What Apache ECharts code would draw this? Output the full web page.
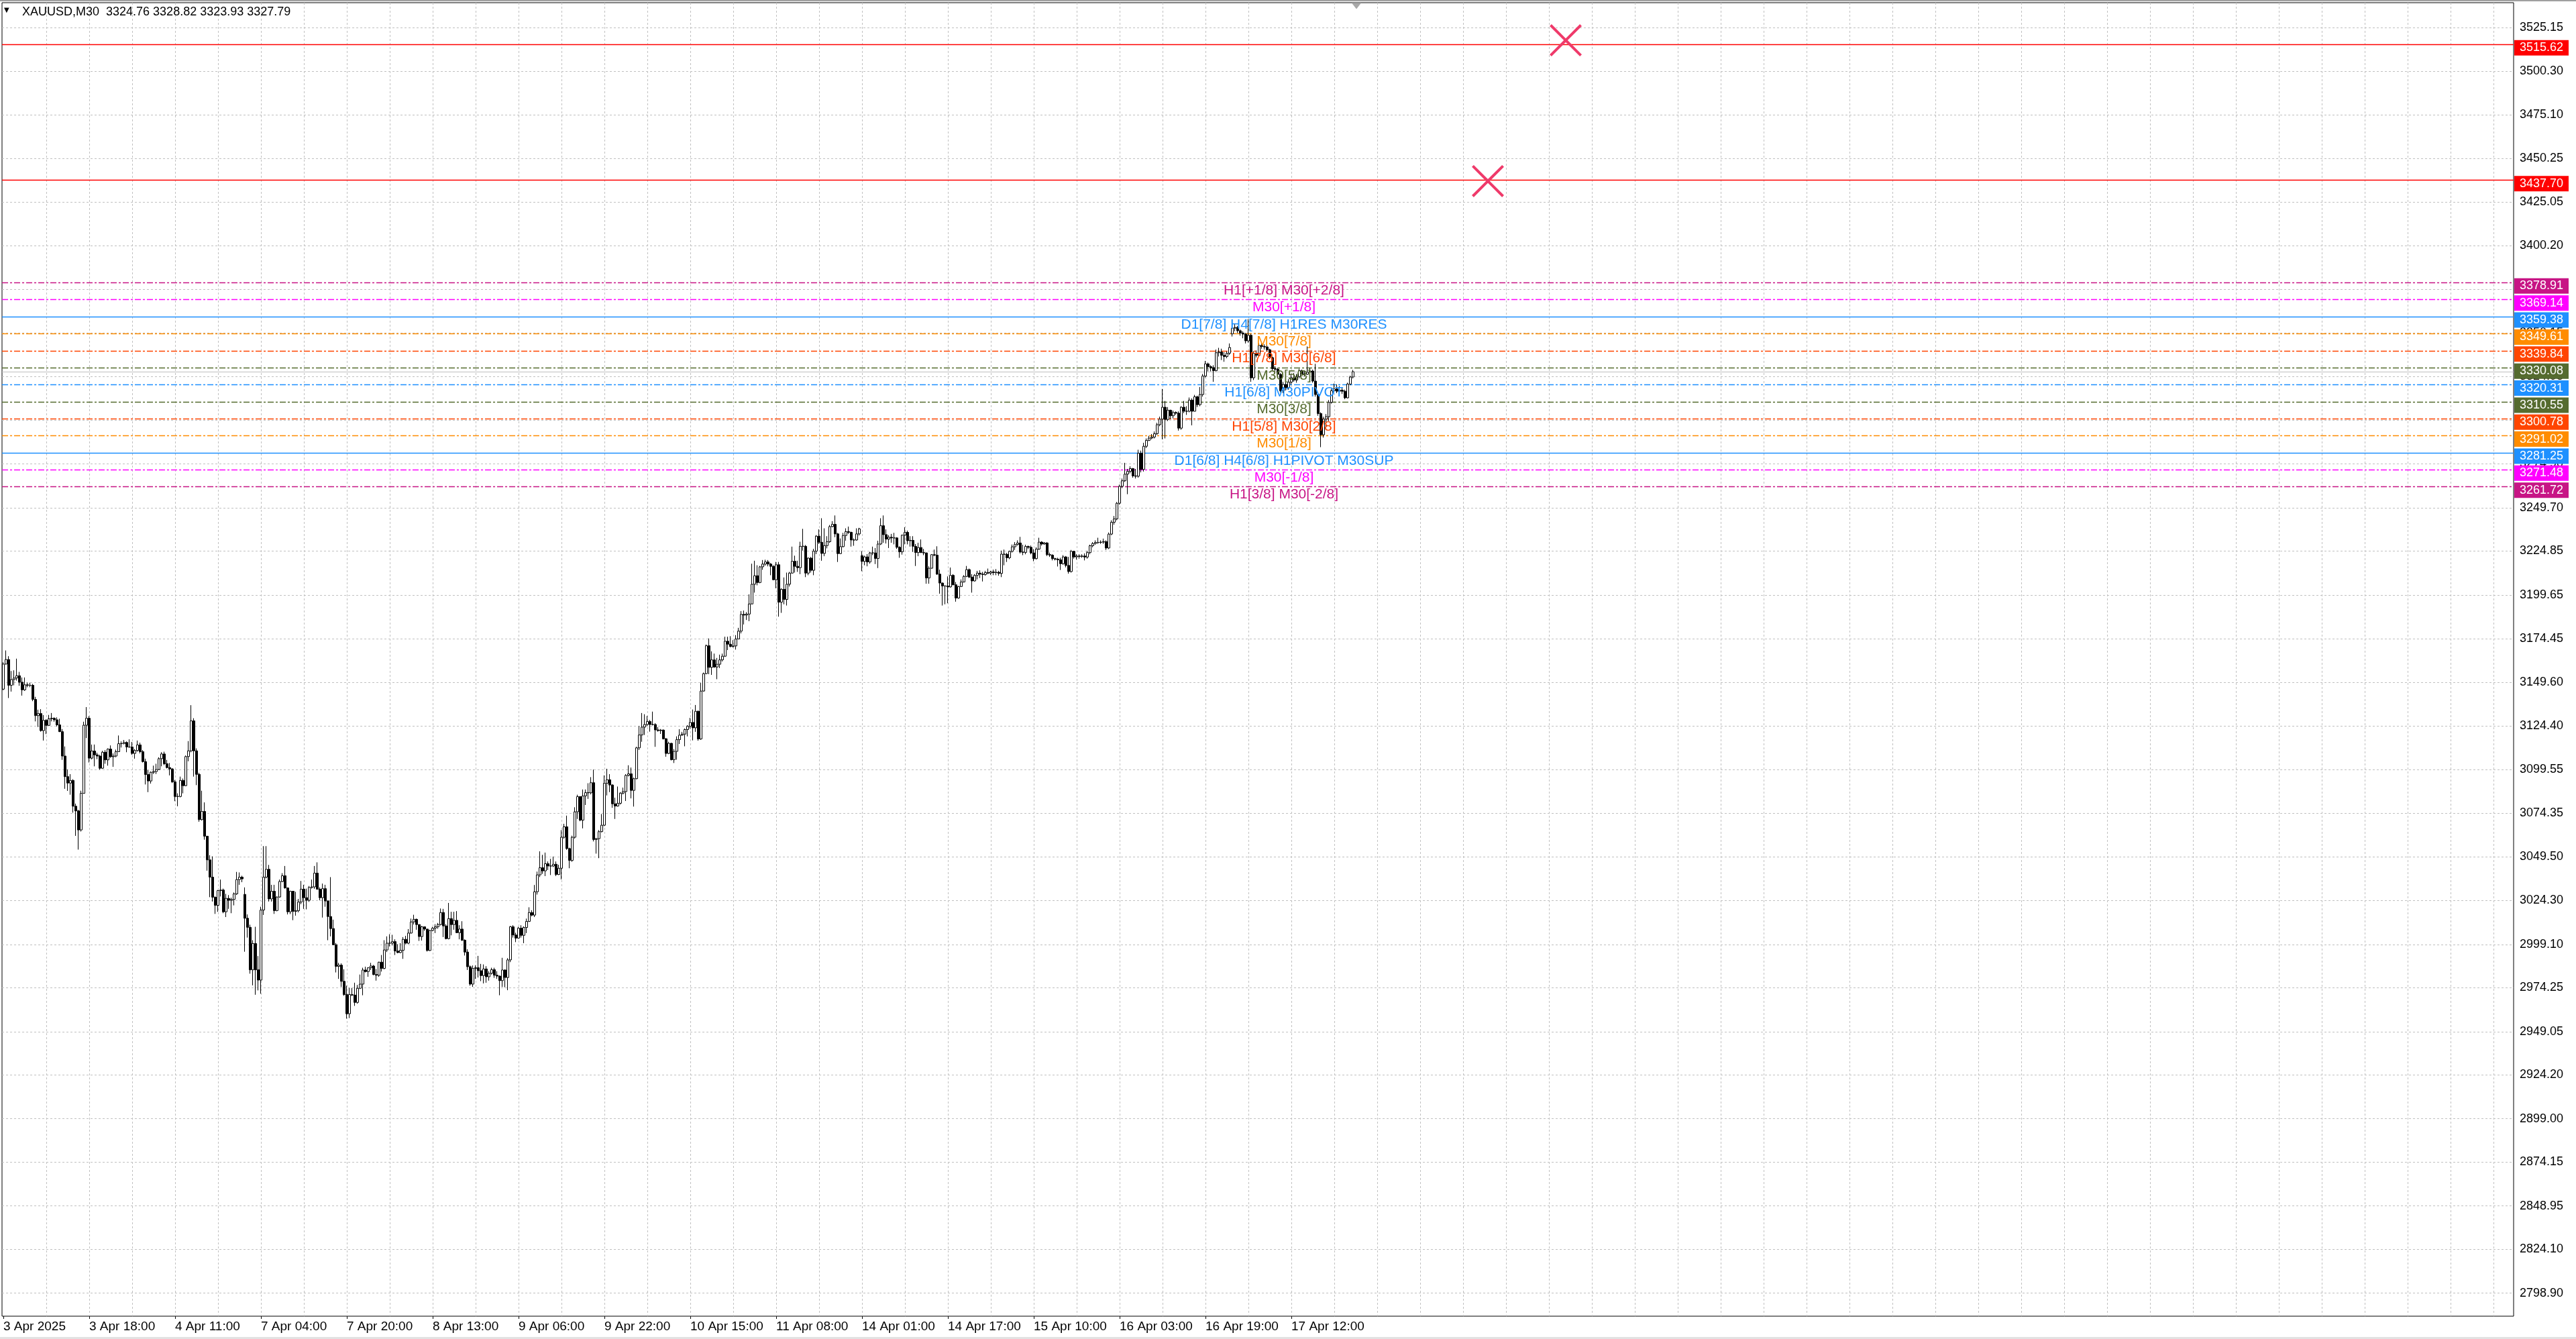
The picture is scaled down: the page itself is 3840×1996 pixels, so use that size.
<!DOCTYPE html>
<html><head><meta charset="utf-8">
<script src="https://cdn.jsdelivr.net/npm/echarts@6/dist/echarts.min.js"></script>
<style>html,body{margin:0;padding:0;background:#fff;overflow:hidden}#c{width:3840px;height:1996px}</style>
</head><body><div id="c"></div>
<script>
// ---------------- data ----------------
const header = 'XAUUSD,M30  3324.76 3328.82 3323.93 3327.79';
const timeLabels = ['3 Apr 2025','3 Apr 18:00','4 Apr 11:00','7 Apr 04:00','7 Apr 20:00','8 Apr 13:00','9 Apr 06:00','9 Apr 22:00','10 Apr 15:00','11 Apr 08:00','14 Apr 01:00','14 Apr 17:00','15 Apr 10:00','16 Apr 03:00','16 Apr 19:00','17 Apr 12:00'];
const yTicks = [3525.15,3500.30,3475.10,3450.25,3425.05,3400.20,3375.00,3350.15,3324.95,3300.10,3274.90,3249.70,3224.85,3199.65,3174.45,3149.60,3124.40,3099.55,3074.35,3049.50,3024.30,2999.10,2974.25,2949.05,2924.20,2899.00,2874.15,2848.95,2824.10,2798.90];

const firstOpen = 3145.6;
const gapBars = [90, 320, 458];
const gapOpens = [3027.8, 3222.2, 3349.5];

const closes = [
3160.0,3162.6,3147.8,3151.1,3152.0,3153.3,3149.6,3145.2,3148.1,3147.8,
3147.8,3139.7,3130.4,3131.6,3121.8,3127.7,3124.8,3128.6,3128.9,3128.0,
3125.1,3121.2,3107.2,3095.4,3091.7,3093.2,3078.4,3075.7,3064.8,3085.8,
3124.9,3128.9,3106.0,3110.1,3107.9,3107.2,3100.2,3109.4,3105.0,3111.2,
3106.8,3107.2,3109.7,3114.3,3114.4,3115.0,3112.4,3112.4,3108.7,3110.4,
3113.6,3109.7,3104.0,3096.6,3092.9,3097.9,3098.3,3099.5,3105.7,3108.4,
3102.8,3100.6,3099.8,3092.4,3084.0,3084.0,3093.2,3090.2,3106.9,3110.2,
3127.4,3110.2,3096.7,3070.7,3075.4,3061.2,3047.6,3037.7,3026.2,3021.5,
3030.0,3030.3,3017.8,3025.5,3024.4,3024.9,3028.1,3036.3,3037.7,3036.7,
3014.1,3008.9,2984.5,2999.6,2984.5,2978.6,3018.8,3037.7,3042.2,3025.2,
3029.6,3018.5,3026.3,3035.2,3038.5,3031.5,3017.8,3029.6,3018.1,3018.4,
3023.4,3030.8,3025.9,3024.4,3031.8,3032.1,3040.0,3030.8,3025.9,3031.1,
3024.0,3015.1,3008.2,2998.9,2986.5,2987.2,2977.9,2970.3,2959.3,2970.3,
2970.0,2965.8,2973.9,2976.3,2984.4,2983.5,2985.7,2986.7,2981.8,2981.4,
2988.9,2985.3,2995.9,2999.8,2999.8,3000.7,2995.3,2994.4,2995.7,3002.0,
2999.8,3005.6,3012.0,3013.5,3010.5,3003.6,3009.2,3007.9,2995.6,3007.1,
3008.4,3009.2,3010.5,3017.4,3009.7,3002.4,3013.9,3010.5,3012.9,3005.8,
3007.9,3001.5,2994.7,2986.3,2976.3,2985.3,2985.7,2984.0,2981.2,2985.0,
2980.5,2982.5,2984.6,2981.4,2980.9,2978.3,2984.4,2980.1,2990.2,3009.2,
3004.5,3002.7,3008.4,3004.3,3008.8,3012.3,3017.4,3015.9,3029.3,3039.0,
3043.1,3041.3,3045.4,3044.1,3044.1,3045.1,3039.2,3042.8,3060.6,3066.6,
3054.1,3047.3,3060.6,3075.2,3083.9,3070.4,3084.3,3086.2,3086.1,3091.9,
3059.3,3059.8,3063.8,3067.5,3091.6,3093.6,3090.6,3079.8,3078.5,3080.1,
3085.9,3086.8,3096.1,3097.0,3087.5,3094.2,3111.9,3119.3,3123.8,3125.3,
3127.0,3125.3,3125.3,3122.2,3121.8,3122.1,3117.1,3108.7,3114.5,3105.1,
3109.9,3116.6,3119.2,3119.8,3122.4,3124.3,3126.5,3123.4,3132.9,3117.0,
3144.5,3154.5,3170.5,3158.1,3162.4,3158.3,3159.9,3162.4,3164.5,3173.1,
3171.4,3170.1,3170.4,3174.4,3178.9,3188.5,3188.1,3188.7,3194.5,3205.8,
3210.7,3206.8,3215.8,3217.4,3218.6,3217.4,3216.1,3208.4,3217.0,3195.5,
3202.9,3197.1,3205.8,3212.2,3219.0,3216.1,3215.3,3227.6,3227.6,3212.2,
3220.8,3213.8,3224.8,3233.4,3229.9,3223.5,3228.0,3230.2,3238.9,3240.2,
3234.7,3223.4,3227.4,3233.8,3236.0,3235.6,3231.2,3231.2,3234.7,3237.6,
3218.9,3221.5,3218.6,3223.8,3223.8,3220.6,3228.9,3239.4,3234.3,3231.7,
3232.8,3232.4,3232.4,3227.0,3224.4,3234.0,3235.6,3230.8,3231.0,3227.6,
3224.0,3226.9,3224.0,3223.8,3209.4,3215.0,3222.8,3222.5,3211.6,3206.5,
3204.8,3204.8,3204.3,3210.9,3205.5,3197.9,3204.5,3207.1,3210.3,3214.2,
3209.9,3207.7,3210.9,3212.2,3211.6,3211.4,3212.5,3212.2,3212.9,3212.5,
3212.7,3212.0,3223.1,3223.0,3221.0,3224.7,
3227.3,3228.6,3229.5,3224.3,3224.1,3227.5,3227.0,3223.8,3220.5,3226.0,
3230.0,3228.9,3229.5,3222.8,3222.5,3220.5,3220.2,3219.8,3217.6,3221.5,
3216.6,3213.1,3224.7,3221.5,3222.0,3221.8,3222.0,3221.4,3224.0,3227.9,
3229.2,3229.8,3229.8,3230.0,3230.3,3226.6,3234.6,3241.4,3243.3,3252.3,
3262.0,3265.2,3269.0,3270.6,3272.2,3268.0,3267.8,3281.0,3271.7,3285.0,
3288.4,3289.7,3290.3,3292.2,3297.4,3300.6,3307.4,3300.4,3305.7,3302.5,
3304.4,3304.0,3295.4,3307.4,3305.1,3305.1,3311.5,3305.1,3313.4,3308.9,
3314.7,3325.3,3332.3,3330.7,3330.1,3328.4,3338.7,3339.1,3337.2,3336.5,
3338.4,3341.7,3352.8,3353.2,3351.3,3350.0,3349.4,3345.5,3348.7,3324.3,
3338.4,3337.2,3342.9,3342.3,3342.0,3340.4,3335.9,3329.5,3329.2,3326.3,
3316.9,3320.5,3318.6,3321.8,3324.3,3323.0,3325.0,3328.4,3326.5,3326.3,
3327.5,3328.2,3322.4,3314.7,3303.8,3291.6,3300.6,3302.0,3310.2,3316.9,
3317.9,3316.6,3317.2,3316.6,3312.8,3320.7,3324.76,3327.79];

const highs = [
3161.0,3167.8,3164.5,3156.0,3156.4,3163.1,3155.5,3152.3,3152.3,3149.3,
3149.3,3148.6,3141.2,3133.8,3134.1,3130.7,3128.3,3130.8,3131.9,3129.4,
3129.4,3128.6,3122.7,3112.7,3099.5,3096.8,3093.9,3079.9,3076.3,3087.3,
3126.9,3135.3,3130.1,3113.8,3113.8,3109.1,3107.9,3110.2,3110.6,3111.6,
3113.3,3108.7,3110.9,3119.0,3115.6,3116.4,3115.6,3116.8,3115.3,3111.2,
3116.1,3114.9,3110.6,3105.7,3099.1,3098.3,3101.7,3102.8,3106.5,3109.4,
3109.7,3105.0,3103.2,3100.3,3093.5,3085.8,3095.4,3094.3,3107.5,3115.8,
3136.4,3128.9,3111.6,3097.6,3087.3,3080.6,3061.4,3050.3,3049.6,3026.6,
3030.3,3036.3,3031.1,3028.1,3027.4,3025.9,3028.9,3040.7,3040.4,3038.5,
3031.8,3016.3,3010.4,3001.5,3009.2,2992.4,3020.7,3055.5,3055.5,3044.7,
3033.3,3033.3,3026.6,3036.3,3040.0,3044.1,3031.8,3029.9,3029.6,3029.3,
3025.2,3035.5,3033.3,3031.1,3032.6,3036.3,3044.1,3046.2,3031.8,3034.0,
3033.3,3024.4,3037.7,3013.3,2999.9,2988.5,2988.2,2984.8,2975.4,2974.1,
2974.1,2977.1,2975.8,2981.8,2985.7,2986.3,2985.7,2988.5,2987.3,2985.0,
2989.1,2993.0,3001.5,3003.7,3004.9,3004.6,3002.0,2999.2,2999.8,3003.3,
3004.0,3007.9,3013.9,3016.1,3013.9,3010.5,3009.7,3009.4,3007.5,3007.5,
3009.2,3010.7,3011.4,3019.7,3019.5,3010.7,3022.9,3017.8,3017.8,3018.2,
3010.1,3012.4,3002.0,2996.3,2987.0,2987.0,2987.0,2992.5,2987.9,2987.6,
2986.6,2983.7,2985.7,2985.7,2983.7,2981.2,2991.4,2984.8,2991.2,3009.7,
3010.1,3005.8,3009.2,3010.1,3009.4,3013.9,3020.4,3018.7,3033.2,3040.9,
3052.5,3050.5,3051.8,3046.7,3048.2,3049.5,3046.7,3044.8,3064.7,3068.3,
3073.0,3054.6,3061.5,3077.8,3085.0,3084.2,3088.0,3088.0,3091.6,3095.1,
3099.4,3060.2,3064.7,3073.9,3096.1,3099.9,3096.8,3091.0,3083.3,3089.7,
3086.5,3089.1,3096.8,3101.9,3100.6,3094.8,3112.5,3124.4,3131.9,3131.2,
3130.2,3127.9,3132.7,3126.1,3123.8,3122.7,3122.5,3117.6,3115.4,3114.8,
3111.2,3118.5,3122.6,3121.1,3123.0,3124.9,3129.1,3133.9,3136.5,3133.3,
3149.3,3155.1,3171.2,3174.7,3167.3,3166.0,3163.5,3165.4,3166.0,3175.7,
3175.7,3176.0,3173.7,3176.6,3180.8,3190.4,3190.7,3189.8,3200.0,3217.6,
3219.3,3216.7,3216.3,3219.7,3219.9,3219.7,3218.0,3216.7,3218.6,3218.6,
3203.5,3209.7,3212.5,3212.9,3227.4,3222.2,3219.3,3230.2,3237.6,3228.3,
3221.2,3221.5,3226.1,3234.0,3237.3,3243.7,3237.9,3233.4,3239.8,3242.0,
3245.3,3235.3,3232.1,3235.3,3237.9,3238.9,3236.0,3232.1,3237.9,3238.2,
3224.8,3222.2,3223.1,3224.4,3227.4,3226.6,3230.8,3243.7,3245.3,3237.3,
3234.0,3234.7,3235.3,3232.8,3227.6,3234.3,3238.5,3236.6,3233.4,3233.4,
3228.9,3229.6,3231.5,3226.1,3224.0,3216.1,3223.1,3225.7,3227.6,3214.2,
3206.8,3205.2,3210.3,3215.4,3211.6,3207.1,3204.8,3208.6,3211.0,3216.3,
3214.8,3211.6,3211.6,3213.5,3213.8,3212.9,3213.5,3214.8,3213.5,3214.2,
3214.5,3213.5,3225.1,3225.7,3223.8,3225.1,
3228.6,3230.0,3231.0,3233.0,3228.5,3228.5,3228.0,3228.0,3226.0,3227.0,
3232.5,3230.5,3230.0,3230.0,3224.0,3223.0,3221.0,3221.0,3221.0,3222.5,
3222.0,3221.5,3225.5,3225.0,3223.0,3223.0,3223.0,3223.5,3225.0,3228.5,
3230.0,3231.0,3232.5,3231.0,3232.0,3231.0,3235.5,3242.5,3245.0,3253.0,
3263.0,3266.5,3275.5,3272.0,3273.5,3272.5,3272.0,3283.0,3282.5,3287.0,
3289.5,3291.0,3292.0,3293.5,3298.5,3302.0,3317.9,3311.0,3307.5,3306.0,
3305.5,3305.0,3305.0,3308.0,3311.0,3308.0,3313.0,3312.5,3314.5,3314.0,
3319.0,3326.5,3334.0,3333.0,3331.5,3331.5,3340.5,3341.5,3341.0,3339.0,
3339.5,3344.0,3356.0,3355.5,3354.0,3352.0,3351.0,3350.0,3358.0,3349.5,
3339.5,3340.0,3344.0,3344.5,3343.5,3343.0,3341.0,3336.5,3331.0,3330.0,
3327.0,3322.0,3322.0,3323.5,3326.5,3327.0,3326.5,3329.5,3329.0,3328.5,
3342.3,3330.0,3329.0,3332.3,3315.5,3304.5,3302.0,3303.5,3311.5,3318.0,
3321.0,3320.5,3319.5,3318.5,3317.5,3321.5,3325.5,3328.82];

const lows = [
3145.0,3159.7,3140.5,3144.2,3147.8,3150.5,3147.5,3141.9,3144.6,3146.7,
3146.7,3138.7,3127.1,3123.9,3121.2,3116.1,3119.8,3124.5,3127.1,3126.9,
3124.2,3121.0,3105.0,3088.4,3087.2,3085.0,3074.7,3061.4,3053.5,3063.9,
3085.8,3117.5,3103.5,3105.3,3101.3,3105.4,3099.4,3099.8,3102.8,3101.7,
3106.2,3101.0,3106.5,3109.5,3112.1,3113.9,3109.4,3111.9,3107.9,3105.7,
3109.7,3108.7,3103.5,3090.9,3086.5,3091.4,3096.9,3096.9,3099.1,3101.3,
3102.0,3100.1,3096.1,3091.7,3081.3,3078.4,3083.5,3085.8,3089.9,3104.2,
3109.4,3095.4,3090.5,3069.5,3070.2,3059.2,3041.4,3026.2,3023.7,3016.6,
3017.8,3026.6,3017.0,3014.8,3019.5,3017.0,3021.5,3027.5,3033.3,3034.8,
2994.9,3003.0,2982.3,2975.6,2970.2,2972.7,2970.8,3016.0,3037.0,3023.7,
3023.7,3016.6,3018.1,3025.9,3034.8,3031.1,3016.3,3016.5,3013.0,3015.6,
3017.5,3022.2,3019.5,3019.2,3023.5,3031.1,3031.0,3030.5,3024.4,3014.5,
3020.7,3001.5,3003.7,2998.6,2983.0,2979.3,2974.7,2969.6,2956.5,2956.8,
2969.5,2963.8,2965.1,2973.5,2969.9,2983.0,2980.5,2984.4,2981.4,2978.3,
2980.5,2983.5,2984.8,2994.7,2997.9,2998.5,2993.0,2994.0,2994.0,2990.8,
2999.2,2999.2,3005.3,3010.5,3007.5,3001.1,3001.3,3006.9,2995.0,2995.3,
3006.6,3005.6,3008.1,3010.0,3003.3,3002.0,3002.0,3004.3,3007.5,3005.6,
3002.0,3001.1,2992.7,2984.4,2975.4,2974.7,2979.3,2980.1,2978.0,2976.7,
2977.1,2978.3,2981.8,2979.9,2979.3,2969.9,2974.7,2974.5,2972.8,2988.9,
3003.0,3000.4,3002.4,3003.0,2999.8,3005.6,3012.0,3015.2,3014.8,3027.7,
3037.7,3039.6,3038.3,3041.8,3038.9,3043.5,3038.3,3038.9,3036.4,3059.8,
3053.4,3042.8,3046.5,3059.8,3071.1,3069.8,3065.7,3079.1,3082.6,3085.2,
3058.2,3051.2,3048.6,3063.4,3067.0,3084.6,3086.5,3077.5,3071.1,3078.2,
3079.4,3085.2,3081.4,3095.5,3082.9,3078.2,3093.9,3110.7,3115.4,3119.3,
3124.5,3121.2,3124.8,3112.5,3121.2,3119.9,3116.7,3106.8,3108.3,3104.7,
3103.2,3105.1,3114.1,3118.8,3112.8,3118.5,3123.0,3116.2,3121.1,3116.0,
3116.5,3144.2,3154.2,3154.2,3153.8,3157.9,3151.3,3157.7,3161.5,3164.1,
3168.0,3169.6,3169.5,3168.3,3176.9,3177.6,3182.7,3185.3,3184.6,3194.3,
3201.0,3205.2,3206.4,3214.1,3216.5,3216.1,3211.0,3208.1,3203.5,3187.2,
3189.4,3194.3,3193.6,3204.5,3212.0,3212.5,3212.9,3211.6,3225.1,3209.9,
3211.0,3212.5,3211.0,3223.1,3228.9,3219.3,3221.9,3226.4,3229.6,3238.5,
3232.8,3218.6,3223.1,3227.0,3230.8,3234.7,3227.4,3227.9,3230.8,3233.8,
3213.3,3216.7,3216.1,3217.6,3222.5,3217.4,3215.1,3228.3,3229.6,3229.2,
3226.6,3229.6,3228.7,3226.1,3221.0,3222.8,3228.7,3228.7,3227.4,3224.4,
3216.3,3221.9,3223.8,3222.5,3206.1,3206.1,3214.8,3221.9,3211.2,3200.4,
3193.6,3194.3,3194.9,3203.9,3205.2,3195.8,3197.5,3204.3,3206.8,3209.9,
3209.4,3201.0,3207.4,3208.6,3209.4,3207.4,3210.7,3211.6,3211.2,3211.0,
3211.0,3210.7,3209.9,3216.7,3218.6,3220.2,
3224.0,3225.5,3228.0,3223.5,3222.5,3223.0,3226.0,3223.0,3219.0,3220.0,
3225.5,3228.0,3228.5,3222.0,3221.5,3219.5,3219.5,3216.0,3214.0,3217.0,
3215.5,3211.9,3212.5,3220.5,3220.0,3220.5,3221.0,3219.5,3220.5,3223.0,
3227.0,3228.5,3229.0,3229.0,3229.0,3225.5,3226.0,3234.0,3240.0,3242.5,
3251.5,3261.0,3264.5,3257.5,3269.5,3267.0,3266.5,3267.0,3270.0,3270.5,
3284.0,3288.0,3289.0,3289.5,3291.5,3296.5,3289.0,3289.5,3299.5,3300.5,
3301.0,3303.0,3294.0,3294.5,3304.0,3303.0,3304.5,3297.0,3305.0,3307.5,
3308.0,3313.5,3324.5,3328.0,3328.0,3322.0,3328.0,3336.5,3334.5,3333.5,
3335.5,3337.5,3348.0,3351.0,3350.0,3348.5,3347.0,3344.0,3344.5,3322.0,
3323.0,3336.0,3336.5,3341.0,3340.5,3339.5,3335.0,3328.5,3328.0,3325.0,
3316.0,3315.5,3317.0,3317.5,3320.5,3322.0,3321.5,3324.0,3325.5,3325.0,
3326.0,3323.0,3321.5,3313.5,3302.5,3284.5,3290.0,3296.0,3299.5,3309.5,
3316.0,3315.5,3316.0,3315.0,3312.0,3312.5,3320.0,3323.93];

const redLines = [3515.62, 3437.70];
const bidPrice = 3327.79;
const levelValues = [3378.91,3369.14,3359.38,3349.61,3339.84,3330.08,3320.31,3310.55,3300.78,3291.02,3281.25,3271.48,3261.72];
const levelLabels = ['H1[+1/8] M30[+2/8]','M30[+1/8]','D1[7/8] H4[7/8] H1RES M30RES','M30[7/8]','H1[7/8] M30[6/8]','M30[5/8]','H1[6/8] M30PIVOT','M30[3/8]','H1[5/8] M30[2/8]','M30[1/8]','D1[6/8] H4[6/8] H1PIVOT M30SUP','M30[-1/8]','H1[3/8] M30[-2/8]'];
const labelBar = 477.25;              // time anchor (bar index) of the level texts
const targetMarks = [[582.25, 3518.0], [553.25, 3437.2]];
const shiftMarkBar = 504.25;

// ---------------- styles ----------------
const levelColors = ['#c71585','#ff00ff','#1e90ff','#ff8c00','#ff4500','#556b2f','#1e90ff','#556b2f','#ff4500','#ff8c00','#1e90ff','#ff00ff','#c71585'];
const levelSolid = [false,false,true,false,false,false,false,false,false,false,true,false,false];
const FONT = "'Liberation Sans', Arial, sans-serif";
const yMin = 2785.7, yMax = 3539.6, nSlots = 936;

// ---------------- build ----------------
const candleData = closes.map((c, i) => {
  let o = i === 0 ? firstOpen : closes[i - 1];
  const g = gapBars.indexOf(i);
  if (g >= 0) o = gapOpens[g];
  const h = Math.max(highs[i], o, c), l = Math.min(lows[i], o, c);
  return [i, o, c, l, h];
});
const boxValues = redLines.concat(levelValues);
const boxColors = redLines.map(() => '#ff0000').concat(levelColors);

const chart = echarts.init(document.getElementById('c'), null, {renderer: 'canvas', width: 3840, height: 1996});
const option = {
  animation: false,
  backgroundColor: '#ffffff',
  textStyle: {fontFamily: FONT},
  title: [
    {text: '\u25BC', left: 6, top: 10, padding: 0, textStyle: {fontSize: 10, color: '#000', fontWeight: 'normal', fontFamily: "'DejaVu Sans', sans-serif"}},
    {text: header, left: 33, top: 9, padding: 0, textStyle: {fontSize: 18, color: '#000', fontWeight: 'normal', fontFamily: FONT}}
  ],
  graphic: [
    {type: 'rect', silent: true, z: 100, shape: {x: 0, y: 0, width: 3840, height: 2}, style: {fill: '#a0a0a0'}},
    {type: 'rect', silent: true, z: 100, shape: {x: 0, y: 1993, width: 3840, height: 3}, style: {fill: '#e2e2e2'}}
  ],
  grid: [
    {left: 3, top: 4, width: 3744, height: 1958, show: true, borderColor: '#000', borderWidth: 1, backgroundColor: 'transparent', containLabel: false, outerBoundsMode: 'none'},
    {left: 5, top: 4, width: 3740, height: 1958, show: false, containLabel: false, outerBoundsMode: 'none'},
    {left: 5, top: 4, width: 1920, height: 1958, show: false, containLabel: false, outerBoundsMode: 'none'}
  ],
  xAxis: [
    {gridIndex: 0, type: 'value', min: -0.5, max: nSlots - 0.5, show: false},
    {gridIndex: 1, type: 'value', min: 0, max: nSlots - 1, interval: 16,
      axisLine: {show: false}, axisTick: {show: false}, axisLabel: {show: false},
      splitLine: {show: true, showMinLine: false, showMaxLine: false, lineStyle: {color: '#c0c0c0', type: [3, 3], width: 1}}},
    {gridIndex: 2, type: 'value', min: 0, max: 480, interval: 32,
      axisLine: {show: false}, splitLine: {show: false},
      axisTick: {show: true, length: 4, lineStyle: {color: '#000', width: 1}},
      axisLabel: {show: true, margin: 6, align: 'left', color: '#000', fontSize: 19, fontFamily: FONT, hideOverlap: false,
        formatter: v => timeLabels[Math.round(v / 32)] || ''}}
  ],
  yAxis: [
    {gridIndex: 0, type: 'value', min: yMin, max: yMax, show: false},
    {gridIndex: 1, type: 'value', min: 0, max: 1, show: false},
    {gridIndex: 2, type: 'value', min: 0, max: 1, show: false}
  ],
  series: [
    {type: 'line', name: 'grid', xAxisIndex: 0, yAxisIndex: 0, data: [], silent: true,
      markLine: {z: 1, silent: true, symbol: ['none', 'none'], animation: false,
        lineStyle: {color: '#c0c0c0', type: [3, 3], width: 1},
        label: {show: true, position: 'end', distance: 9, color: '#000', fontSize: 18, fontFamily: FONT},
        emphasis: {disabled: true},
        data: yTicks.map(v => ({yAxis: v, label: {formatter: v.toFixed(2)}}))}},
    {type: 'line', name: 'levels', xAxisIndex: 0, yAxisIndex: 0, data: [], silent: true,
      markLine: {z: 2, silent: true, symbol: ['none', 'none'], animation: false,
        label: {show: false}, emphasis: {disabled: true},
        data: redLines.map(v => ({yAxis: v, lineStyle: {color: '#ff0000', type: 'solid', width: 1.3, opacity: 1}}))
          .concat([{yAxis: bidPrice, lineStyle: {color: '#c0c0c0', type: 'solid', width: 1, opacity: 1}}])
          .concat(levelValues.map((v, i) => ({yAxis: v, lineStyle: {color: levelColors[i], type: levelSolid[i] ? 'solid' : [9, 3, 3, 3], width: 1.3, opacity: 1}})))}},
    {type: 'candlestick', name: 'XAUUSD', xAxisIndex: 0, yAxisIndex: 0, z: 3, barWidth: 3, silent: true, large: false,
      data: candleData,
      itemStyle: {color: '#ffffff', color0: '#000000', borderColor: '#000000', borderColor0: '#000000', borderColorDoji: '#000000', borderWidth: 1, opacity: 1}},
    {type: 'scatter', name: 'boxes', xAxisIndex: 0, yAxisIndex: 0, z: 6, clip: false, silent: true,
      symbol: 'rect', symbolSize: [81, 23], symbolOffset: [41.5, 5],
      data: boxValues.map((v, i) => ({value: [nSlots - 0.5, v], itemStyle: {color: boxColors[i], opacity: 1}})),
      itemStyle: {opacity: 1},
      label: {show: true, position: 'inside', color: '#ffffff', fontSize: 18, fontFamily: FONT,
        formatter: p => p.value[1].toFixed(2)}},
    {type: 'scatter', name: 'levelText', xAxisIndex: 0, yAxisIndex: 0, z: 7, clip: false, silent: true,
      symbol: 'circle', symbolSize: 0.5, itemStyle: {color: 'rgba(0,0,0,0)', opacity: 1},
      data: levelValues.map((v, i) => ({value: [labelBar, v], label: {color: levelColors[i], opacity: 1}})),
      label: {show: true, position: 'bottom', distance: 1, fontSize: 21, fontFamily: FONT, opacity: 1,
        formatter: p => levelLabels[p.dataIndex]}},
    {type: 'scatter', name: 'targets', xAxisIndex: 0, yAxisIndex: 0, z: 7, silent: true,
      symbol: 'path://M6,0 L50,44 L94,0 L100,6 L56,50 L100,94 L94,100 L50,56 L6,100 L0,94 L44,50 L0,6 Z',
      symbolSize: 48, itemStyle: {color: '#ef3a6a', opacity: 1}, data: targetMarks},
    {type: 'scatter', name: 'shift', xAxisIndex: 0, yAxisIndex: 0, z: 7, clip: false, silent: true,
      symbol: 'triangle', symbolRotate: 180, symbolSize: [14, 9], symbolOffset: [0, 5],
      itemStyle: {color: '#a8a8a8', opacity: 1}, data: [[shiftMarkBar, yMax]]}
  ]
};
chart.setOption(option);
</script>
</body></html>
